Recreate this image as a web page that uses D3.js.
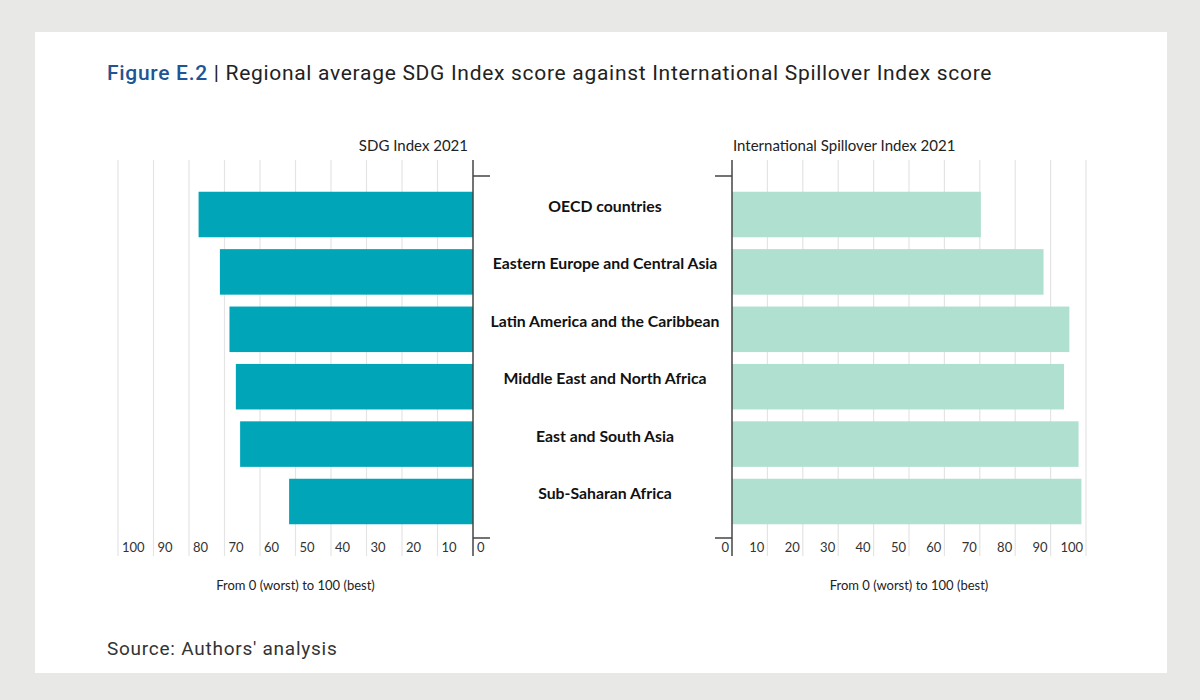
<!DOCTYPE html>
<html><head><meta charset="utf-8">
<script src="https://cdn.jsdelivr.net/npm/d3@7"></script>
<style>
html,body{margin:0;padding:0;background:#e8e9e6;}
svg{display:block;}
</style></head>
<body>
<svg id="chart" width="1200" height="700"></svg>
<script>
const categories = ["OECD countries","Eastern Europe and Central Asia","Latin America and the Caribbean","Middle East and North Africa","East and South Asia","Sub-Saharan Africa"];
const sdgIndex = [77.3, 71.3, 68.6, 66.8, 65.6, 51.8];
const spilloverIndex = [70.3, 88.0, 95.3, 93.8, 97.9, 98.7];
const tickValues = [0,10,20,30,40,50,60,70,80,90,100];

const svg = d3.select("#chart");
svg.append("rect").attr("x",35).attr("y",32).attr("width",1132).attr("height",641).attr("fill","#fff");

const lblFont = "Lato, 'Open Sans', sans-serif";
const titleFont = "Roboto, sans-serif";

// title
const t = svg.append("text").attr("x",107).attr("y",80).attr("font-family",titleFont).attr("font-size",21).attr("letter-spacing",0.7);
t.append("tspan").attr("fill","#1f5592").attr("font-weight",500).text("Figure E.2");
t.append("tspan").attr("fill","#222").text(" | Regional average SDG Index score against International Spillover Index score");

svg.append("text").attr("x",107).attr("y",655).attr("font-family",titleFont).attr("font-size",19).attr("letter-spacing",0.75).attr("fill","#333").text("Source: Authors' analysis");

const y = d3.scaleBand().domain(categories).range([185.8,530.2]).paddingInner(0.207).paddingOuter(0.1035);
const xL = d3.scaleLinear().domain([0,100]).range([473,118]);
const xR = d3.scaleLinear().domain([0,100]).range([732,1086]);
const gTop = 160, gBot = 556;

function panel(x, values, color, side, title) {
  const g = svg.append("g");
  g.selectAll("line.grid").data(tickValues.filter(d=>d>0)).join("line")
    .attr("x1",d=>x(d)).attr("x2",d=>x(d)).attr("y1",gTop).attr("y2",gBot)
    .attr("stroke","#e4e4e4").attr("stroke-width",1.2);
  g.selectAll("rect.bar").data(values).join("rect")
    .attr("x",(d)=>Math.min(x(0),x(d))).attr("width",d=>Math.abs(x(d)-x(0)))
    .attr("y",(d,i)=>y(categories[i])).attr("height",y.bandwidth())
    .attr("fill",color);
  const x0 = x(0);
  g.append("line").attr("x1",x0).attr("x2",x0).attr("y1",gTop).attr("y2",gBot).attr("stroke","#444").attr("stroke-width",1.5);
  const dir = side==="left" ? 1 : -1;
  [176,538].forEach(yy=>{
    g.append("line").attr("x1",x0).attr("x2",x0+dir*17).attr("y1",yy).attr("y2",yy).attr("stroke","#444").attr("stroke-width",1.5);
  });
  g.selectAll("text.tick").data(tickValues).join("text")
    .attr("x",d=> side==="left" ? x(d)+4 : x(d)-3)
    .attr("text-anchor", side==="left" ? "start" : "end")
    .attr("y",552).attr("font-family",lblFont).attr("font-size",13).attr("fill","#333")
    .text(d=>d);
  g.append("text").attr("x", side==="left" ? 468 : 733).attr("y",151)
    .attr("text-anchor", side==="left" ? "end" : "start")
    .attr("font-family",lblFont).attr("font-size",15).attr("fill","#222").text(title);
  g.append("text").attr("x",(x(0)+x(100))/2).attr("y",590).attr("text-anchor","middle")
    .attr("font-family",lblFont).attr("font-size",13).attr("fill","#222").text("From 0 (worst) to 100 (best)");
}
panel(xL, sdgIndex, "#00a5b8", "left", "SDG Index 2021");
panel(xR, spilloverIndex, "#b0e0cf", "right", "International Spillover Index 2021");

svg.selectAll("text.cat").data(categories).join("text")
  .attr("x",605).attr("y",d=>y(d)+y.bandwidth()/2-8).attr("dy","0.35em")
  .attr("text-anchor","middle").attr("font-family",lblFont).attr("font-weight",700)
  .attr("font-size",15.8).attr("fill","#111").text(d=>d);
</script>
</body></html>
